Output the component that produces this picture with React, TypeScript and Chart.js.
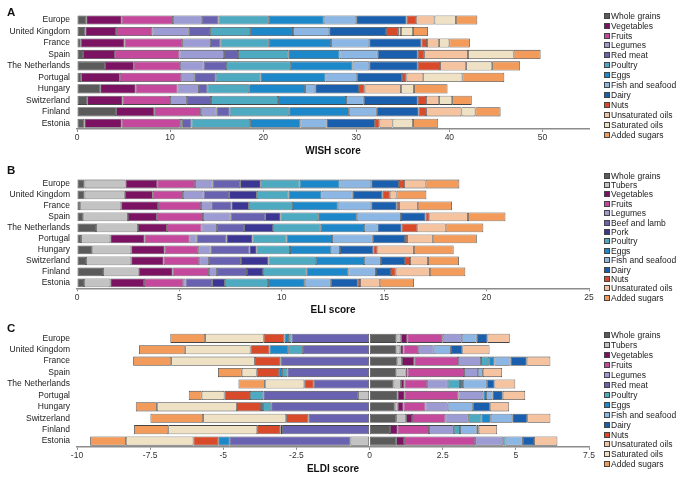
import { useEffect, useRef } from 'react';
import { Chart, registerables } from 'chart.js';

Chart.register(...registerables);

const FONT = "'Liberation Sans', Arial, Helvetica, sans-serif";

const countries = [
  'Europe',
  'United Kingdom',
  'France',
  'Spain',
  'The Netherlands',
  'Portugal',
  'Hungary',
  'Switzerland',
  'Finland',
  'Estonia',
];

const wishGroups = [
  'Whole grains', 'Vegetables', 'Fruits', 'Legumes', 'Red meat', 'Poultry', 'Eggs',
  'Fish and seafood', 'Dairy', 'Nuts', 'Unsaturated oils', 'Saturated oils', 'Added sugars',
];
const eliGroups = [
  'Whole grains', 'Tubers', 'Vegetables', 'Fruits', 'Legumes', 'Beef and lamb', 'Pork', 'Poultry',
  'Eggs', 'Fish and seafood', 'Dairy', 'Nuts', 'Unsaturated oils', 'Added sugars',
];
const eldiGroups = [
  'Whole grains', 'Tubers', 'Vegetables', 'Fruits', 'Legumes', 'Red meat', 'Poultry', 'Eggs',
  'Fish and seafood', 'Dairy', 'Nuts', 'Unsaturated oils', 'Saturated oils', 'Added sugars',
];

const groupColors: Record<string, string> = {
  'Whole grains': '#5b5b5b',
  'Tubers': '#c3c3c3',
  'Vegetables': '#7b1262',
  'Fruits': '#c4499d',
  'Legumes': '#9d9bd3',
  'Red meat': '#6862b0',
  'Beef and lamb': '#6862b0',
  'Pork': '#3b3593',
  'Poultry': '#4eaac0',
  'Eggs': '#1c88c9',
  'Fish and seafood': '#8cb6e3',
  'Dairy': '#1a5fae',
  'Nuts': '#d94a2a',
  'Unsaturated oils': '#f6c3a1',
  'Saturated oils': '#efe2c4',
  'Added sugars': '#f29b5b',
};

// WISH score components per country (order follows wishGroups)
const wishEurope = [1.0, 3.8, 5.5, 3.1, 1.8, 5.4, 5.9, 3.5, 5.4, 1.0, 2.0, 2.3, 2.3];
const wishUK = [0.9, 3.3, 3.9, 3.9, 2.3, 4.3, 4.6, 3.9, 6.1, 1.3, 0.3, 1.3, 1.6];
const wishFrance = [0.4, 4.7, 6.2, 3.1, 1.0, 5.2, 6.7, 4.1, 5.6, 0.6, 1.3, 1.1, 2.2];
const wishSpain = [0.65, 3.45, 6.9, 4.8, 1.5, 5.4, 5.5, 4.1, 4.3, 0.7, 4.7, 4.9, 2.9];
const wishNetherlands = [3.0, 3.1, 4.95, 2.55, 2.4, 7.0, 6.6, 1.8, 5.2, 2.4, 2.8, 2.8, 3.0];
const wishPortugal = [0.45, 4.15, 6.6, 1.4, 2.3, 4.8, 7.0, 3.4, 4.8, 0.5, 1.8, 4.2, 4.5];
const wishHungary = [2.5, 3.8, 4.5, 2.3, 0.9, 4.5, 6.0, 1.1, 4.7, 0.6, 3.9, 1.4, 3.6];
const wishSwitzerland = [1.1, 3.8, 5.1, 1.8, 2.6, 7.2, 7.3, 1.9, 5.8, 0.9, 1.4, 1.4, 2.1];
const wishFinland = [4.2, 4.1, 5.0, 1.7, 1.4, 6.4, 6.4, 3.0, 4.5, 0.8, 3.8, 1.5, 2.7];
const wishEstonia = [0.8, 4.0, 6.25, 0.25, 1.0, 6.3, 5.4, 2.8, 5.2, 0.5, 1.4, 2.2, 2.7];

// ELI score components per country (order follows eliGroups)
const eliEurope = [0.37, 2.0, 1.55, 1.85, 0.85, 1.35, 1.0, 1.9, 1.95, 1.55, 1.35, 0.25, 1.05, 1.65];
const eliUK = [0.37, 1.96, 1.37, 1.47, 1.01, 1.25, 1.35, 1.55, 1.61, 1.52, 1.45, 0.36, 0.33, 1.46];
const eliFrance = [0.16, 2.0, 1.8, 2.1, 0.5, 0.98, 0.85, 2.16, 2.18, 1.64, 1.24, 0.12, 0.91, 1.67];
const eliSpain = [0.31, 2.18, 1.41, 2.25, 1.35, 1.69, 0.75, 1.84, 1.88, 2.16, 1.2, 0.19, 1.88, 1.83];
const eliNetherlands = [0.93, 2.05, 1.41, 1.69, 0.75, 1.33, 1.42, 2.32, 2.11, 0.66, 1.18, 0.77, 1.38, 1.84];
const eliPortugal = [0.2, 1.43, 1.67, 2.2, 0.34, 1.46, 1.27, 1.66, 2.22, 1.99, 1.58, 0.1, 1.25, 2.15];
const eliHungary = [0.75, 1.9, 1.63, 1.64, 0.6, 1.9, 0.35, 1.63, 2.02, 0.42, 1.63, 0.2, 1.78, 1.94];
const eliSwitzerland = [0.44, 2.21, 1.58, 1.74, 0.47, 1.56, 1.35, 2.31, 2.35, 0.83, 1.18, 0.24, 0.88, 1.51];
const eliFinland = [1.27, 1.74, 1.66, 1.77, 0.39, 1.47, 0.79, 2.11, 2.05, 1.35, 0.73, 0.23, 1.67, 1.73];
const eliEstonia = [0.34, 1.29, 1.64, 1.92, 0.11, 1.3, 0.62, 2.11, 1.79, 1.27, 1.32, 0.11, 0.96, 1.67];

// ELDI score components per country (order follows eldiGroups; negative = below reference)
const eldiEurope = [0.92, 0.16, 0.21, 1.21, 0.65, -2.67, -0.12, -0.12, 0.51, 0.37, -0.71, 0.76, -2.0, -1.19];
const eldiUK = [0.92, 0.13, 0.11, 0.49, 0.54, -2.28, -0.5, -0.64, 0.59, 0.39, -0.65, 0.93, -2.23, -1.58];
const eldiFrance = [0.95, 0.16, 0.42, 1.49, 0.79, -3.04, 0.28, 0.18, 0.55, 0.55, -0.88, 0.81, -2.86, -1.3];
const eldiSpain = [0.92, 0.31, 0.07, 1.93, 0.47, -2.81, -0.18, -0.1, 0.17, null, -0.77, 0.66, -0.51, -0.81];
const eldiNetherlands = [0.82, 0.25, 0.12, 0.78, 0.7, -1.91, 0.42, 0.1, 0.83, 0.25, -0.32, 0.71, -1.35, -0.9];
const eldiPortugal = [0.96, -0.39, 0.24, 1.84, 0.85, -3.24, -0.46, 0.09, 0.22, 0.35, -0.87, 0.77, -0.78, -0.44];
const eldiHungary = [0.86, 0.1, 0.2, 0.75, 0.76, -3.36, -0.28, -0.07, 0.87, 0.57, -0.82, 0.66, -2.74, -0.72];
const eldiSwitzerland = [0.91, 0.34, 0.2, 1.14, 0.8, -2.09, 0.43, 0.32, 0.74, 0.51, -0.76, 0.79, -2.84, -1.8];
const eldiFinland = [0.7, null, 0.26, 1.07, 0.85, -2.99, 0.21, -0.05, 0.57, 0.07, -0.8, 0.63, -3.04, -1.17];
const eldiEstonia = [0.91, -0.65, 0.27, 2.43, 0.96, -4.13, 0.08, -0.39, 0.59, 0.38, -0.85, 0.8, -2.31, -1.22];

const wishRows = [wishEurope, wishUK, wishFrance, wishSpain, wishNetherlands, wishPortugal, wishHungary, wishSwitzerland, wishFinland, wishEstonia];
const eliRows = [eliEurope, eliUK, eliFrance, eliSpain, eliNetherlands, eliPortugal, eliHungary, eliSwitzerland, eliFinland, eliEstonia];
const eldiRows = [eldiEurope, eldiUK, eldiFrance, eldiSpain, eldiNetherlands, eldiPortugal, eldiHungary, eldiSwitzerland, eldiFinland, eldiEstonia];

type PanelSpec = {
  letter: string;
  top: number;
  height: number;
  groups: string[];
  rows: (number | null)[][];
  min: number;
  max: number;
  step: number;
  title: string;
  padTop: number;
  axisH: number;
  titlePad: number;
  legendFirst: number;
  legendStep: number;
  letterY: number;
};

const panels: PanelSpec[] = [
  {
    letter: 'A', top: 0, height: 160, groups: wishGroups, rows: wishRows,
    min: 0, max: 55, step: 10, title: 'WISH score',
    padTop: 14.3, axisH: 31, titlePad: 3, legendFirst: 15.7, legendStep: 9.9, letterY: 12,
  },
  {
    letter: 'B', top: 160, height: 160, groups: eliGroups, rows: eliRows,
    min: 0, max: 25, step: 5, title: 'ELI score',
    padTop: 18.5, axisH: 31.7, titlePad: 4, legendFirst: 15.7, legendStep: 9.38, letterY: 9.5,
  },
  {
    letter: 'C', top: 320, height: 157, groups: eldiGroups, rows: eldiRows,
    min: -10, max: 7.5, step: 2.5, title: 'ELDI score',
    padTop: 12.6, axisH: 30.2, titlePad: 2, legendFirst: 15, legendStep: 9.95, letterY: 7.5,
  },
];

function buildConfig(p: PanelSpec): any {
  return {
    type: 'bar',
    data: {
      labels: countries,
      datasets: p.groups.map((g, i) => ({
        label: g,
        data: p.rows.map((r) => r[i]),
        backgroundColor: groupColors[g],
        borderColor: '#454545',
        borderWidth: 0.8,
        borderSkipped: false,
        barPercentage: 0.8,
        categoryPercentage: 1,
      })),
    },
    options: {
      indexAxis: 'y',
      animation: false,
      responsive: true,
      maintainAspectRatio: false,
      layout: { padding: { top: p.padTop, right: 96, left: 0, bottom: 0 } },
      plugins: { legend: { display: false }, tooltip: { enabled: false } },
      scales: {
        x: {
          stacked: true,
          min: p.min,
          max: p.max,
          ticks: {
            stepSize: p.step,
            includeBounds: false,
            font: { family: FONT, size: 8.5 },
            color: '#333',
            padding: 1,
            maxRotation: 0,
          },
          grid: { drawOnChartArea: false, drawTicks: true, tickLength: 3, color: '#8c8c8c', lineWidth: 1 },
          border: { display: true, color: '#8c8c8c', width: 1.5 },
          title: {
            display: true,
            text: p.title,
            font: { family: FONT, size: 10, weight: 'bold' },
            color: '#111',
            padding: { top: 0, bottom: p.titlePad },
          },
          afterFit: (s: any) => {
            s.height = p.axisH;
          },
        },
        y: {
          stacked: true,
          grid: { display: false, drawTicks: false },
          border: { display: false },
          ticks: { font: { family: FONT, size: 8.5 }, color: '#222', padding: 7, autoSkip: false },
          afterFit: (s: any) => {
            s.width = 77;
          },
        },
      },
    },
  };
}

function Panel({ spec }: { spec: PanelSpec }) {
  const ref = useRef<HTMLCanvasElement | null>(null);
  useEffect(() => {
    if (!ref.current) return;
    const chart = new Chart(ref.current, buildConfig(spec));
    return () => chart.destroy();
  }, [spec]);

  return (
    <div style={{ position: 'absolute', left: 0, top: spec.top, width: 685, height: spec.height }}>
      <canvas ref={ref} />
      <div
        style={{
          position: 'absolute', left: 7, top: spec.letterY - 7, fontFamily: FONT,
          fontWeight: 'bold', fontSize: 11.5, color: '#111', lineHeight: '14px',
        }}
      >
        {spec.letter}
      </div>
      {spec.groups.map((g, i) => (
        <div
          key={g}
          style={{
            position: 'absolute', left: 603.5, top: spec.legendFirst + i * spec.legendStep - 5,
            height: 10, display: 'flex', alignItems: 'center', fontFamily: FONT,
            fontSize: 8.5, color: '#222', whiteSpace: 'nowrap',
          }}
        >
          <span
            style={{
              display: 'inline-block', width: 4, height: 4, background: groupColors[g],
              border: '1px solid #444', marginRight: 1.5,
            }}
          />
          {g}
        </div>
      ))}
    </div>
  );
}

export default function App() {
  return (
    <div style={{ position: 'absolute', left: 0, top: 0, width: 685, height: 477, background: '#fff' }}>
      {panels.map((p) => (
        <Panel key={p.letter} spec={p} />
      ))}
    </div>
  );
}
